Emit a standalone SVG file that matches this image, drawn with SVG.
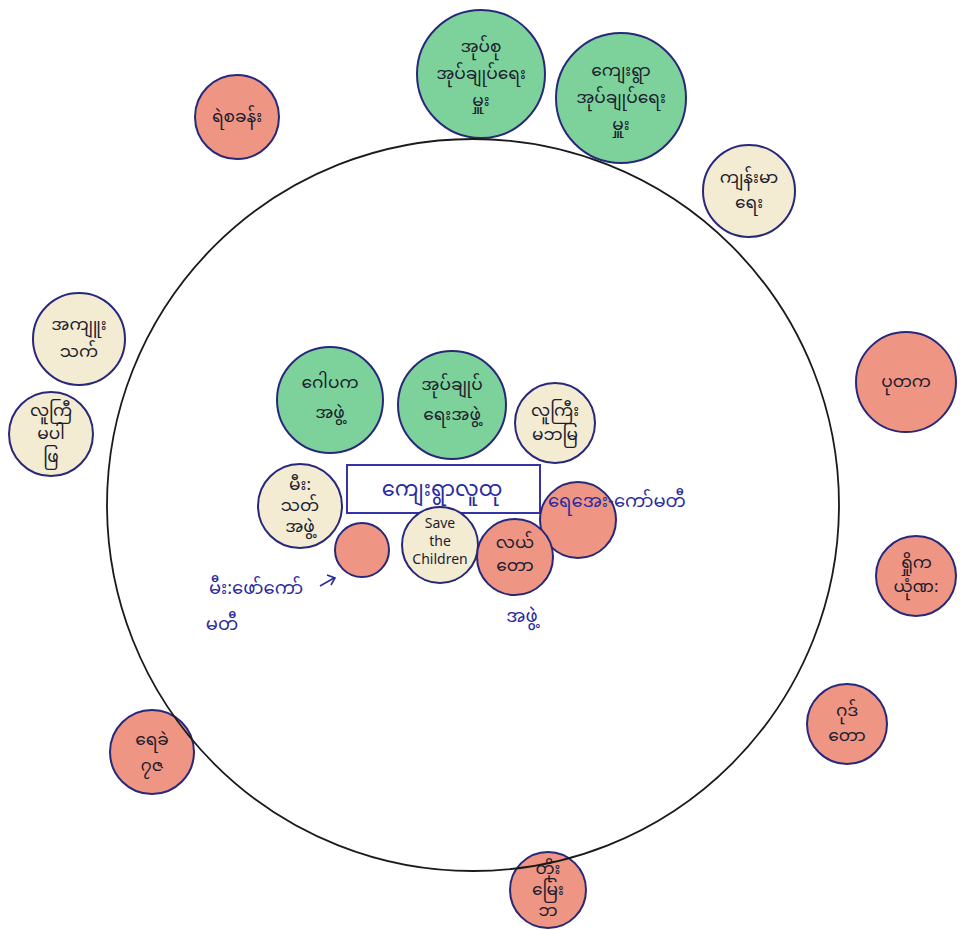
<svg xmlns="http://www.w3.org/2000/svg" width="961" height="930" viewBox="0 0 961 930">
<style>
.g{fill:#7dd29b;stroke:#27287a;stroke-width:2}
.r{fill:#ee9584;stroke:#27287a;stroke-width:2}
.b{fill:#f3ecd3;stroke:#27287a;stroke-width:2}
text{font-family:"Noto Sans","Noto Sans Myanmar","Padauk","Myanmar Text",sans-serif;font-size:17px;fill:#1c1c2e;text-anchor:middle}
.bl{fill:#2a2aa0}
</style>
<rect width="961" height="930" fill="#ffffff"/>

<g id="n-tract-admin"><circle class="g" cx="481" cy="74" r="64"/><text x="481" y="52">အုပ်စု</text><text x="481" y="79">အုပ်ချုပ်ရေး</text><text x="481" y="106">မှူး</text></g>
<g id="n-village-admin"><circle class="g" cx="621" cy="98" r="65"/><text x="621" y="76">ကျေးရွာ</text><text x="621" y="103">အုပ်ချုပ်ရေး</text><text x="621" y="130">မှူး</text></g>
<g id="n-police"><circle class="r" cx="237" cy="117" r="42"/><text x="237" y="122">ရဲစခန်း</text></g>
<g id="n-health"><circle class="b" cx="749" cy="191" r="46"/><text x="749" y="183">ကျန်းမာ</text><text x="749" y="208">ရေး</text></g>
<g id="n-left1"><circle class="b" cx="79" cy="339" r="46"/><text x="79" y="330">အကျူး</text><text x="79" y="357">သက်</text></g>
<g id="n-left2"><circle class="b" cx="51" cy="434" r="42"/><text x="51" y="416">လူကြီ</text><text x="51" y="439">မပါ</text><text x="51" y="462">ဖြ</text></g>
<g id="n-right1"><circle class="r" cx="906" cy="382" r="50"/><text x="906" y="387">ပုတက</text></g>
<g id="n-right2"><circle class="r" cx="916" cy="576" r="40"/><text x="916" y="568">ရှိုက</text><text x="916" y="592">ယုံဏ:</text></g>
<g id="n-right3"><circle class="r" cx="847" cy="724" r="40"/><text x="847" y="716">ဂုဒ်</text><text x="847" y="741">တော</text></g>
<g id="n-bottomleft"><circle class="r" cx="152" cy="752" r="42"/><text x="152" y="745">ရေခဲ</text><text x="152" y="771">၇ဇ</text></g>
<g id="n-bottom"><circle class="r" cx="548" cy="890" r="38"/><text x="548" y="874">တိုး</text><text x="548" y="895">မြေး</text><text x="548" y="916">ဘ</text></g>

<g id="main-circle"><circle cx="473" cy="505" r="366" fill="none" stroke="#1a1a1a" stroke-width="1.8"/></g>

<g id="n-gopaka"><circle class="g" cx="330" cy="400" r="53"/><text x="330" y="388">ဂေါပက</text><text x="330" y="418">အဖွဲ့</text></g>
<g id="n-admin"><circle class="g" cx="452" cy="405" r="54"/><text x="452" y="390">အုပ်ချုပ်</text><text x="452" y="420">ရေးအဖွဲ့</text></g>
<g id="n-elders"><circle class="b" cx="555" cy="423" r="40"/><text x="555" y="416">လူကြီး</text><text x="555" y="440">မဘမြ</text></g>
<g id="n-village"><rect x="347" y="465" width="193" height="48" fill="#ffffff" stroke="#3434a8" stroke-width="2"/><text class="bl" x="442" y="496" style="font-size:21px">ကျေးရွာလူထု</text></g>
<g id="n-fire"><circle class="b" cx="300" cy="506" r="42"/><text x="300" y="490">မီး:</text><text x="300" y="511">သတ်</text><text x="300" y="532">အဖွဲ့</text></g>
<g id="n-small"><circle class="r" cx="362" cy="550" r="27"/></g>
<g id="n-save"><circle class="b" cx="440" cy="545" r="38"/><text x="440" y="528" style="font-size:14px">Save</text><text x="440" y="546" style="font-size:14px">the</text><text x="440" y="564" style="font-size:14px">Children</text></g>
<g id="n-water"><circle class="r" cx="578" cy="520" r="38"/></g>
<g id="n-farmer"><circle class="r" cx="515" cy="557" r="38"/><text x="515" y="548">လယ်</text><text x="515" y="571">တော</text></g>

<g id="labels">
<text class="bl" x="548" y="507" style="text-anchor:start;font-size:18px">ရေအေး-ကော်မတီ</text>
<text class="bl" x="522" y="622" style="font-size:18px">အဖွဲ့</text>
<text class="bl" x="256" y="594" style="font-size:18px">မီး:ဖော်ကော်</text>
<text class="bl" x="222" y="630" style="font-size:18px">မတီ</text>
</g>
<g id="connectors" stroke="#2a2aa0" stroke-width="1.6" fill="none">
<path d="M320 586 L334 578"/>
<path d="M327 575 L335 578 L331 585"/>
</g>
</svg>
